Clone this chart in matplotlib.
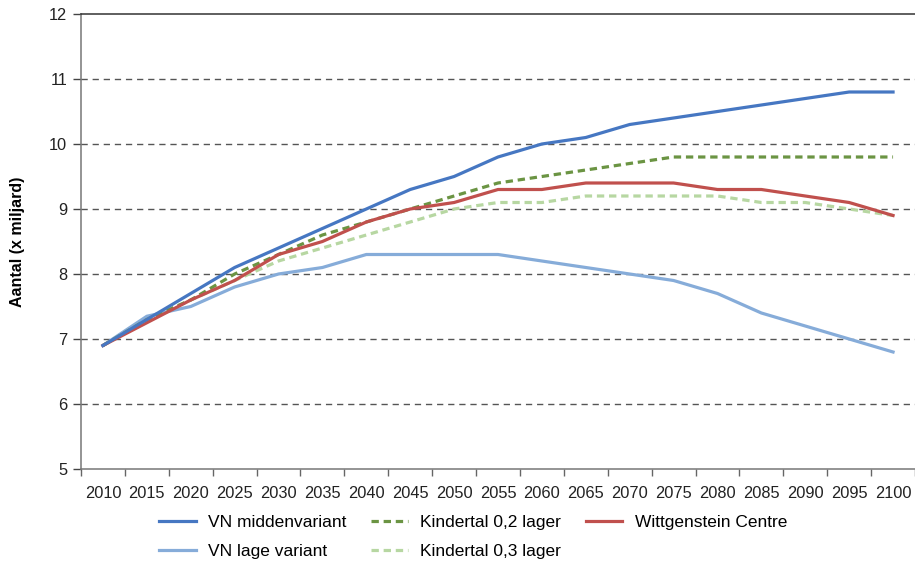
import matplotlib.pyplot as plt
import numpy as np

plt.rcParams['font.family'] = ['Liberation Sans', 'DejaVu Sans']

# years on the category axis
years = [2010, 2015, 2020, 2025, 2030, 2035, 2040, 2045, 2050, 2055,
         2060, 2065, 2070, 2075, 2080, 2085, 2090, 2095, 2100]

# world population (x billion)
vn_midden = [6.9, 7.3, 7.7, 8.1, 8.4, 8.7, 9.0, 9.3, 9.5, 9.8,
             10.0, 10.1, 10.3, 10.4, 10.5, 10.6, 10.7, 10.8, 10.8]
vn_laag = [6.9, 7.35, 7.5, 7.8, 8.0, 8.1, 8.3, 8.3, 8.3, 8.3,
           8.2, 8.1, 8.0, 7.9, 7.7, 7.4, 7.2, 7.0, 6.8]
kind_02 = [6.9, 7.3, 7.6, 8.0, 8.3, 8.6, 8.8, 9.0, 9.2, 9.4,
           9.5, 9.6, 9.7, 9.8, 9.8, 9.8, 9.8, 9.8, 9.8]
kind_03 = [6.9, 7.3, 7.6, 7.9, 8.2, 8.4, 8.6, 8.8, 9.0, 9.1,
           9.1, 9.2, 9.2, 9.2, 9.2, 9.1, 9.1, 9.0, 8.9]
wittgenstein = [6.9, 7.25, 7.6, 7.9, 8.3, 8.5, 8.8, 9.0, 9.1, 9.3,
                9.3, 9.4, 9.4, 9.4, 9.3, 9.3, 9.2, 9.1, 8.9]

x = np.arange(len(years))

fig = plt.figure(figsize=(9.15, 5.64), dpi=100)
ax = fig.add_axes([81 / 915, 1 - 469 / 564, (915 - 81) / 915, (469 - 14) / 564])

lw = 2.3
dash = (2.3, 1.5)
ax.plot(x, vn_midden, color='#4677c2', lw=lw, label='VN middenvariant', zorder=5)
ax.plot(x, vn_laag, color='#86acd9', lw=lw, label='VN lage variant', zorder=3)
ax.plot(x, kind_02, color='#6b9443', lw=lw, dashes=dash, label='Kindertal 0,2 lager', zorder=4)
ax.plot(x, kind_03, color='#b7d7a2', lw=lw, dashes=dash, label='Kindertal 0,3 lager', zorder=3)
ax.plot(x, wittgenstein, color='#c0504d', lw=lw, label='Wittgenstein Centre', zorder=4)

ax.set_ylim(5, 12)
ax.set_yticks(range(5, 13))
ax.set_xlim(-0.5, 18.5 - 4 / 44.1)
ax.set_xticks(x)
ax.set_xticklabels([str(y) for y in years])
ax.set_xticks(np.arange(-0.5, 19, 1), minor=True)
ax.tick_params(axis='x', which='major', length=0, pad=12, labelsize=11.8, colors='#222222')
ax.tick_params(axis='x', which='minor', length=5, width=1, color='#666666', direction='out')
ax.tick_params(axis='y', length=6, width=1, color='#444444', pad=4, labelsize=11.8, labelcolor='#222222')

for v in range(6, 12):
    ax.axhline(v, color='#555555', lw=1, dashes=(4.5, 3.5), zorder=1)

ax.spines['right'].set_visible(False)
ax.spines['top'].set_color('#333333')
ax.spines['left'].set_color('#777777')
ax.spines['bottom'].set_color('#777777')
for s in ['top', 'left', 'bottom']:
    ax.spines[s].set_linewidth(1.1)

ax.set_ylabel('Aantal (x miljard)', fontweight='bold', fontsize=11.5)
ax.yaxis.set_label_coords(-0.067, 0.5)

ax.legend(loc='upper left', bbox_to_anchor=(0.075, -0.066), ncol=3, frameon=False,
          fontsize=12.5, handlelength=2.1, handletextpad=0.7, columnspacing=1.45,
          labelspacing=0.8)

fig.savefig('out.png', dpi=100)
